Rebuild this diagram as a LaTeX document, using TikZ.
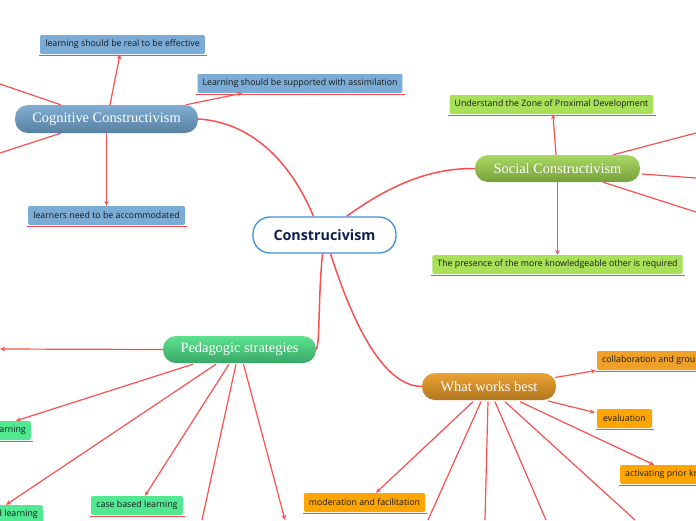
\documentclass[tikz,border=0pt]{standalone}
\usepackage{fontspec}
\setmainfont{Open Sans}
\newfontfamily\slab{Liberation Serif}
\usetikzlibrary{arrows.meta,calc}
\definecolor{edgered}{RGB}{250,80,80}
\definecolor{ulred}{RGB}{250,75,75}
\definecolor{centblue}{RGB}{60,145,215}
\definecolor{navy}{RGB}{15,30,80}
\definecolor{subtext}{RGB}{25,25,25}
\definecolor{bluesub}{RGB}{123,172,214}
\definecolor{cogtop}{RGB}{128,174,210}
\definecolor{cogbot}{RGB}{88,128,162}
\definecolor{greensub}{RGB}{168,224,90}
\definecolor{soctop}{RGB}{170,216,98}
\definecolor{socbot}{RGB}{118,160,60}
\definecolor{pedsub}{RGB}{82,232,146}
\definecolor{pedtop}{RGB}{92,226,142}
\definecolor{pedbot}{RGB}{56,168,104}
\definecolor{orsub}{RGB}{255,165,0}
\definecolor{orsubb}{RGB}{238,160,40}
\definecolor{wwbtop}{RGB}{236,162,52}
\definecolor{wwbbot}{RGB}{176,118,30}
\tikzset{
  edge/.style={draw=edgered, line width=1.2pt},
  arr/.style={edge, -{Stealth[length=5pt,width=4.5pt]}},
  mainedge/.style={draw=edgered, line width=1.5pt},
  topic/.style={rectangle, rounded corners=13pt, minimum height=27pt, inner sep=0pt,
    text=white, font=\slab\fontsize{14.4}{16}\selectfont},
  sub/.style={rectangle, rounded corners=2pt, minimum height=19pt, inner xsep=5pt,
    inner ysep=0pt, font=\fontsize{8.8}{10}\selectfont, text=subtext},
  uline/.style={draw=ulred, line width=1.6pt},
}
\begin{document}
\begin{tikzpicture}[x=1pt,y=1pt]
\useasboundingbox (0,0) rectangle (696,-520);
\clip (0,0) rectangle (696,-520);
\fill[white] (0,0) rectangle (696,-520);

% central
\node[draw=centblue, line width=1.3pt, fill=white, rounded corners=17pt,
  minimum width=143pt, minimum height=36pt, inner sep=0pt,
  font=\bfseries\fontsize{14.3}{16}\selectfont, text=navy] (cent) at (324.5,-235) {Construcivism};

% topics
\node[topic, minimum width=183pt, minimum height=28pt, top color=cogtop, bottom color=cogbot] (cog) at (106.5,-119) {Cognitive Constructivism};
\node[topic, minimum width=165pt, top color=soctop, bottom color=socbot] (soc) at (557.5,-168.5) {Social Constructivism};
\node[topic, minimum width=153pt, top color=pedtop, bottom color=pedbot] (ped) at (239.5,-349.5) {Pedagogic strategies};
\node[topic, minimum width=134pt, top color=wwbtop, bottom color=wwbbot] (wwb) at (489,-386.5) {What works best};

% subtopics
\node[sub, fill=bluesub, minimum width=165pt] (c1) at (122.5,-44.5) {learning should be real to be effective};
\node[sub, fill=bluesub, minimum width=200pt] (c2) at (300,-83.5) {Learning should be supported with assimilation};
\node[sub, fill=bluesub, minimum width=157pt] (c3) at (106.5,-215.5) {learners need to be accommodated};
\node[sub, fill=greensub, minimum width=201pt] (s1) at (551.5,-104.5) {Understand the Zone of Proximal Development};
\node[sub, fill=greensub, minimum width=249pt] (s2) at (557.5,-264.5) {The presence of the more knowledgeable other is required};
\node[sub, fill=pedsub, anchor=east] (p1) at (31,-430.5) {learning};
\node[sub, fill=pedsub, anchor=east] (p2) at (43,-514.5) {based learning};
\node[sub, fill=pedsub, minimum width=92pt] (p3) at (137,-505.5) {case based learning};
\node[sub, fill=orsubb, anchor=west] (w1) at (597,-360.5) {collaboration and group work};
\node[sub, fill=orsub, minimum width=55pt] (w2) at (624.5,-418.5) {evaluation};
\node[sub, fill=orsub, anchor=west] (w3) at (620,-474.5) {activating prior knowledge};
\node[sub, fill=orsub, minimum width=119pt] (w4) at (364.5,-502.5) {moderation and facilitation};

\foreach \n in {c1,c2,c3,s1,s2,p1,p2,p3,w1,w2,w3,w4}
  \draw[uline] ([shift={(-1pt,-1.3pt)}]\n.south west) -- ([shift={(2pt,-1.3pt)}]\n.south east);

% off-canvas ends
\coordinate (cogL1) at (0,-84);
\coordinate (cogL2) at (0,-153);
\coordinate (socR1) at (696,-133);
\coordinate (socR2) at (696,-178);
\coordinate (socR3) at (696,-212);
\coordinate (pedL) at (0,-349);
\coordinate (pedB1) at (202,-520);
\coordinate (pedB2) at (285,-520);
\coordinate (wwbB1) at (428,-520);
\coordinate (wwbB2) at (485,-520);
\coordinate (wwbB3) at (546,-520);
\coordinate (wwbB4) at (635,-520);

% main curves
\draw[mainedge] ([xshift=-11pt]cent.north) .. controls (290,-160) and (250,-122) .. (cog.east);
\draw[mainedge] ([xshift=22pt]cent.north) .. controls (390,-185) and (430,-168) .. (soc.west);
\draw[mainedge] ([xshift=-2pt]cent.south) .. controls (318,-300) and (320,-345) .. (ped.east);
\draw[mainedge] ([xshift=6pt]cent.south) .. controls (355,-330) and (385,-386) .. (wwb.west);

% cognitive
\draw[arr] ([xshift=3.5pt]cog.north) -- ([xshift=-2.5pt]c1.south);
\draw[arr] ([xshift=79.5pt]cog.north) -- ([xshift=45pt]c2.south west);
\draw[arr] (cog.south) -- (c3.north);
\draw[edge] ([xshift=46pt]cog.north west) -- (cogL1);
\draw[edge] ([xshift=46pt]cog.south west) -- (cogL2);

% social
\draw[arr] ([xshift=-1.5pt]soc.north) -- ([xshift=1.5pt]s1.south);
\draw[arr] (soc.south) -- (s2.north);
\draw[edge] ([xshift=55.5pt]soc.north) -- (socR1);
\draw[edge] ([shift={(2pt,-5.5pt)}]soc.east) -- (socR2);
\draw[edge] ([xshift=45.5pt]soc.south) -- (socR3);

% pedagogic
\draw[arr] (ped.west) -- (pedL);
\draw[arr] ([xshift=-46.5pt,yshift=-1pt]ped.south) -- ([xshift=-15pt]p1.north east);
\draw[arr] ([xshift=-23.5pt,yshift=-1pt]ped.south) -- ([xshift=-37pt]p2.north east);
\draw[arr] ([xshift=-10.5pt,yshift=-1pt]ped.south) -- ([xshift=8pt]p3.north);
\draw[edge] ([xshift=-3.5pt,yshift=-1pt]ped.south) -- (pedB1);
\draw[arr] ([xshift=4pt,yshift=-1pt]ped.south) -- (pedB2);

% what works best
\draw[arr] ([shift={(-1pt,9pt)}]wwb.east) -- ([shift={(-1pt,-10pt)}]w1.west);
\draw[arr] ([shift={(-8pt,-14.5pt)}]wwb.east) -- ([shift={(-2pt,6pt)}]w2.west);
\draw[arr] ([xshift=31pt,yshift=-1.5pt]wwb.south) -- ([xshift=34pt]w3.north west);
\draw[arr] ([xshift=-16pt,yshift=-1.5pt]wwb.south) -- ([xshift=11.5pt]w4.north);
\draw[edge] ([xshift=-8pt,yshift=-1.5pt]wwb.south) -- (wwbB1);
\draw[edge] ([xshift=-1pt,yshift=-1.5pt]wwb.south) -- (wwbB2);
\draw[edge] ([xshift=6pt,yshift=-1.5pt]wwb.south) -- (wwbB3);
\draw[edge] ([xshift=16pt,yshift=-1.5pt]wwb.south) -- (wwbB4);
\end{tikzpicture}
\end{document}
